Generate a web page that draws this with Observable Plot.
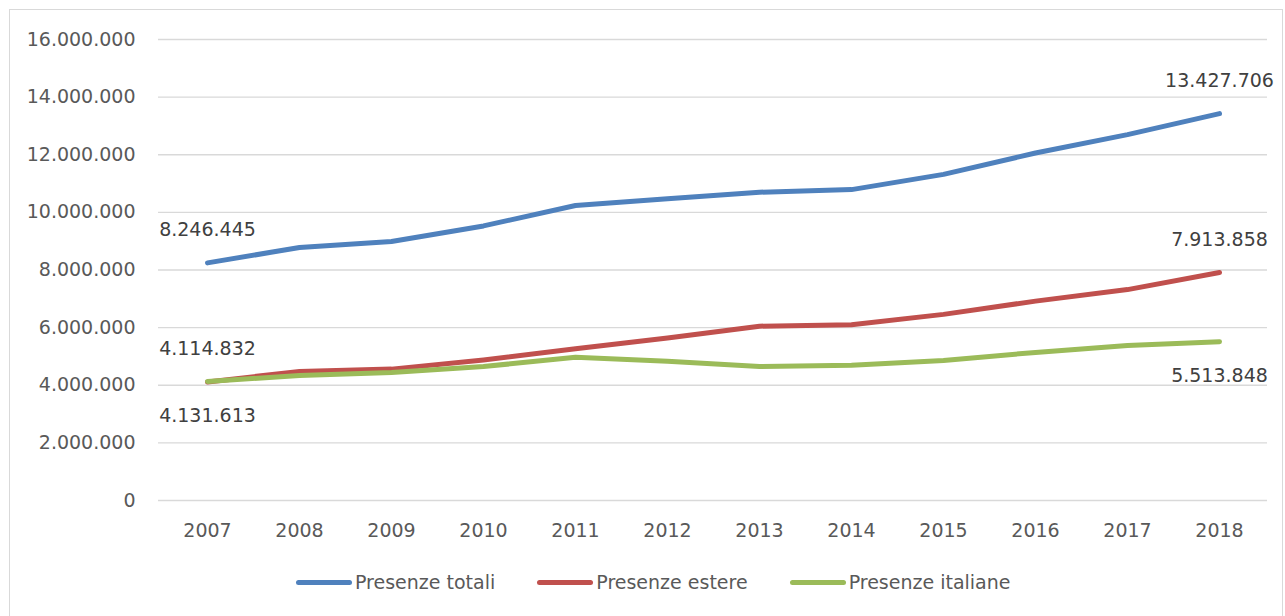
<!DOCTYPE html>
<html>
<head>
<meta charset="utf-8">
<script src="https://cdn.jsdelivr.net/npm/d3@7"></script>
<script src="https://cdn.jsdelivr.net/npm/@observablehq/plot@0.6"></script>
<style>
  html, body { margin: 0; padding: 0; background: #fff; }
  #wrap { position: relative; width: 1285px; height: 616px; overflow: hidden; font-family: "DejaVu Sans", sans-serif; }
  #frame { position: absolute; left: 9px; top: 9px; width: 1274px; height: 640px; border: 1px solid #d9d9d9; box-sizing: border-box; }
  #chart { position: absolute; left: 0; top: 0; }
  #legend { position: absolute; left: 296px; top: 571px; display: flex; align-items: center; font-size: 19px; color: #595959; }
  .item { display: flex; align-items: center; margin-right: 42px; }
  .sw { width: 56px; height: 5px; border-radius: 3px; margin-right: 3px; }
</style>
</head>
<body>
<div id="wrap">
  <div id="frame"></div>
  <div id="chart"></div>
  <div id="legend"></div>
</div>
<script>
const years = ["2007","2008","2009","2010","2011","2012","2013","2014","2015","2016","2017","2018"];
const totali   = [8246445, 8780000, 8990000, 9530000, 10240000, 10470000, 10700000, 10790000, 11320000, 12060000, 12700000, 13427706];
const estere   = [4114832, 4480000, 4560000, 4880000, 5270000, 5640000, 6050000, 6100000, 6460000, 6920000, 7320000, 7913858];
const italiane = [4131613, 4340000, 4440000, 4650000, 4970000, 4830000, 4650000, 4690000, 4860000, 5140000, 5380000, 5513848];
const seriesNames = ["Presenze totali", "Presenze estere", "Presenze italiane"];
const colors = ["#4F81BD", "#C0504D", "#9BBB59"];
const yTicks = [0, 2000000, 4000000, 6000000, 8000000, 10000000, 12000000, 14000000, 16000000];

const fmt = d3.formatLocale({decimal: ",", thousands: ".", grouping: [3], currency: ["€", ""]}).format(",d");

const allSeries = [totali, estere, italiane];
const data = [];
allSeries.forEach((vals, si) => years.forEach((y, i) => data.push({year: y, value: vals[i], series: seriesNames[si]})));

// end-point labels: above / below the line
const labelsAbove = [
  {year: years[0], value: totali[0]},
  {year: years[0], value: estere[0]},
  {year: years[11], value: totali[11]},
  {year: years[11], value: estere[11]}
];
const labelsBelow = [
  {year: years[0], value: italiane[0]},
  {year: years[11], value: italiane[11]}
];

const chart = Plot.plot({
  width: 1285,
  height: 540,
  marginLeft: 158,
  marginRight: 18,
  marginTop: 39,
  marginBottom: 40,
  style: {fontFamily: "DejaVu Sans, sans-serif", fontSize: "19px", color: "#595959", background: "transparent"},
  x: {type: "point", domain: years, label: null},
  y: {domain: [0, 16000000], label: null},
  color: {domain: seriesNames, range: colors},
  marks: [
    Plot.ruleY(yTicks, {stroke: "#d9d9d9", strokeWidth: 1.3}),
    Plot.axisY({ticks: yTicks, tickFormat: fmt, tickSize: 0, tickPadding: 23, label: null, fontSize: 19}),
    Plot.axisX({tickSize: 0, tickPadding: 23, label: null, fontSize: 19}),
    Plot.line(data, {x: "year", y: "value", z: "series", stroke: "series", strokeWidth: 5, strokeLinecap: "round", strokeLinejoin: "round"}),
    Plot.text(labelsAbove, {x: "year", y: "value", text: d => fmt(d.value), dy: -33, fontSize: 19, fill: "#404040"}),
    Plot.text(labelsBelow, {x: "year", y: "value", text: d => fmt(d.value), dy: 34, fontSize: 19, fill: "#404040"})
  ]
});
document.getElementById("chart").appendChild(chart);

const legend = document.getElementById("legend");
seriesNames.forEach((name, i) => {
  const it = document.createElement("div");
  it.className = "item";
  const sw = document.createElement("div");
  sw.className = "sw";
  sw.style.background = colors[i];
  const tx = document.createElement("span");
  tx.textContent = name;
  it.appendChild(sw);
  it.appendChild(tx);
  legend.appendChild(it);
});
</script>
</body>
</html>
